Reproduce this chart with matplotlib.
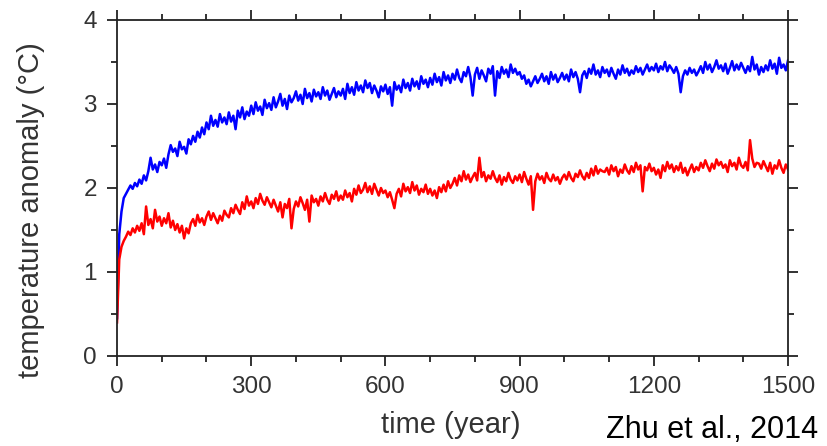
import matplotlib.pyplot as plt
import numpy as np

plt.rcParams['font.family'] = ['Liberation Sans', 'DejaVu Sans']

# model years, one value every 5 years
years = np.arange(0, 1501, 5)

# temperature anomaly (degC)
blue_temp = [
    0.45, 1.45, 1.72, 1.88, 1.93, 1.98, 2.03, 1.99, 2.06, 2.02,
    2.10, 2.05, 2.15, 2.09, 2.20, 2.36, 2.22, 2.28, 2.19, 2.31,
    2.27, 2.35, 2.24, 2.40, 2.51, 2.43, 2.47, 2.38, 2.55, 2.46,
    2.49, 2.41, 2.58, 2.52, 2.62, 2.55, 2.67, 2.60, 2.72, 2.64,
    2.78, 2.70, 2.86, 2.74, 2.81, 2.73, 2.88, 2.78, 2.84, 2.76,
    2.90, 2.79, 2.86, 2.70, 2.92, 2.84, 2.96, 2.82, 2.91, 2.86,
    2.98, 2.88, 3.02, 2.92, 2.97, 2.87, 3.05, 2.95, 3.01, 2.93,
    3.08, 2.96, 3.03, 3.12, 2.98, 3.06, 2.94, 3.10, 3.02, 3.07,
    3.15, 3.04, 3.11, 3.00, 3.18, 3.07, 3.13, 3.03, 3.17, 3.09,
    3.14, 3.06, 3.20, 3.10, 3.16, 3.05, 3.12, 3.19, 3.08, 3.15,
    3.10, 3.18, 3.06, 3.24, 3.13, 3.20, 3.11, 3.26, 3.16, 3.22,
    3.14, 3.28, 3.19, 3.25, 3.13, 3.22, 3.16, 3.08, 3.21, 3.15,
    3.23, 3.12, 3.20, 2.98, 3.26, 3.17, 3.22, 3.14, 3.29, 3.19,
    3.25, 3.16, 3.30, 3.21, 3.27, 3.18, 3.33, 3.24, 3.29, 3.20,
    3.31, 3.23, 3.36, 3.26, 3.32, 3.22, 3.38, 3.28, 3.34, 3.25,
    3.36, 3.29, 3.41, 3.31, 3.26, 3.38, 3.33, 3.44, 3.32, 3.10,
    3.35, 3.43, 3.30, 3.40, 3.34, 3.27, 3.42, 3.36, 3.45, 3.10,
    3.39, 3.31, 3.44, 3.36, 3.41, 3.32, 3.47, 3.37, 3.42, 3.35,
    3.38, 3.30, 3.34, 3.24, 3.29, 3.21, 3.27, 3.33, 3.25, 3.30,
    3.36, 3.27, 3.33, 3.24, 3.38, 3.29, 3.35, 3.26, 3.31, 3.37,
    3.29, 3.35, 3.27, 3.41, 3.32, 3.38, 3.30, 3.14, 3.34, 3.39,
    3.31, 3.42, 3.36, 3.47, 3.35, 3.40, 3.32, 3.44, 3.37, 3.41,
    3.33, 3.43, 3.36, 3.30, 3.41, 3.35, 3.46, 3.37, 3.42, 3.34,
    3.40, 3.36, 3.45, 3.38, 3.43, 3.35, 3.41, 3.47, 3.39, 3.44,
    3.40, 3.48, 3.38, 3.45, 3.41, 3.50, 3.39, 3.46, 3.42, 3.37,
    3.44, 3.36, 3.14, 3.33, 3.40, 3.35, 3.43, 3.37, 3.41, 3.34,
    3.39, 3.45, 3.37, 3.50, 3.41, 3.47, 3.38, 3.44, 3.52, 3.42,
    3.46, 3.39, 3.48, 3.36, 3.43, 3.51, 3.40, 3.47, 3.41, 3.49,
    3.43, 3.37, 3.45, 3.39, 3.56, 3.41, 3.47, 3.35, 3.44, 3.38,
    3.46, 3.40, 3.52, 3.42, 3.48, 3.36, 3.55, 3.43, 3.47, 3.40,
    3.52,
]

red_temp = [
    0.40, 1.15, 1.30, 1.37, 1.42, 1.48, 1.44, 1.52, 1.47, 1.55,
    1.49, 1.58, 1.45, 1.78, 1.56, 1.63, 1.52, 1.74, 1.60, 1.66,
    1.55, 1.64, 1.58, 1.70, 1.53, 1.61, 1.50, 1.57, 1.47, 1.55,
    1.40, 1.52, 1.46, 1.58, 1.63, 1.55, 1.68, 1.59, 1.64, 1.56,
    1.66, 1.72, 1.62, 1.70, 1.64, 1.58, 1.67, 1.61, 1.73, 1.68,
    1.65, 1.76, 1.70, 1.80, 1.74, 1.69, 1.83, 1.75, 1.90, 1.79,
    1.84, 1.76, 1.88, 1.81, 1.93, 1.85, 1.80, 1.89, 1.83, 1.77,
    1.86, 1.79, 1.72, 1.83, 1.65, 1.81, 1.76, 1.87, 1.52, 1.75,
    1.84, 1.78, 1.89, 1.82, 1.74, 1.86, 1.60, 1.91, 1.83, 1.87,
    1.79, 1.90, 1.84, 1.94, 1.86, 1.81, 1.92, 1.87, 1.96, 1.85,
    1.91, 1.86, 1.97, 1.89, 1.94, 1.84, 1.99, 1.92, 2.03, 1.94,
    1.98, 2.06, 1.95, 2.02, 1.93, 2.05, 1.98, 1.91, 2.00, 1.94,
    1.97, 1.89, 1.95, 1.86, 1.76, 1.93, 1.99, 1.90, 2.05, 1.96,
    2.01, 1.94, 2.07, 1.97, 2.03, 1.92, 1.99, 1.95, 2.04, 1.93,
    1.99, 1.91, 1.97, 1.88, 2.01, 1.95, 2.04, 1.96, 2.08, 2.00,
    2.05, 2.12, 2.03, 2.15, 2.08, 2.20, 2.10, 2.16, 2.07, 2.13,
    2.18, 2.09, 2.36, 2.13, 2.19, 2.08, 2.15, 2.11, 2.20, 2.12,
    2.07, 2.15, 2.04, 2.13, 2.08, 2.18, 2.10, 2.06, 2.14, 2.09,
    2.16, 2.07, 2.19, 2.11, 2.04, 2.14, 1.74, 2.08, 2.17, 2.10,
    2.14, 2.06, 2.18, 2.11, 2.08, 2.16, 2.09, 2.13, 2.05, 2.12,
    2.16, 2.10, 2.19, 2.12, 2.08, 2.17, 2.13, 2.21, 2.14, 2.10,
    2.18, 2.12, 2.23, 2.15, 2.26, 2.17, 2.22, 2.20, 2.19, 2.24,
    2.16, 2.27, 2.20, 2.25, 2.14, 2.22, 2.18, 2.28, 2.21, 2.17,
    2.26, 2.19, 2.30, 2.22, 2.27, 1.96, 2.25, 2.21, 2.29, 2.20,
    2.24, 2.16, 2.22, 2.12, 2.27, 2.20, 2.31, 2.23, 2.28, 2.19,
    2.26, 2.21, 2.30, 2.18, 2.24, 2.15, 2.22, 2.28, 2.19, 2.25,
    2.21, 2.30, 2.24, 2.33, 2.26, 2.20, 2.29, 2.23, 2.34, 2.27,
    2.31, 2.24, 2.28, 2.19, 2.33, 2.26, 2.30, 2.22, 2.36, 2.27,
    2.24, 2.31, 2.21, 2.57, 2.35, 2.25, 2.30, 2.29, 2.23, 2.32,
    2.26, 2.20, 2.30, 2.17, 2.27, 2.23, 2.33, 2.24, 2.18, 2.28,
    2.22,
]

x_ticks = [0, 300, 600, 900, 1200, 1500]
y_ticks = [0, 1, 2, 3, 4]

fig = plt.figure(figsize=(8.27, 4.46), dpi=100)
ax = fig.add_axes([0.1415, 0.2018, 0.8114, 0.7534])

ax.plot(years, blue_temp, color='#0000ff', linewidth=1.8)
ax.plot(years, red_temp, color='#ff0000', linewidth=1.8)

ax.set_xlim(0, 1500)
ax.set_ylim(0, 4)
ax.set_xticks(x_ticks)
ax.set_yticks(y_ticks)
ax.set_xticks(np.arange(0, 1501, 100), minor=True)
ax.set_yticks(np.arange(0, 4.01, 0.5), minor=True)

for s in ax.spines.values():
    s.set_linewidth(1.3)
    s.set_color('#222222')

ax.tick_params(which='both', direction='out', top=True, right=True,
               color='#222222', width=1.3, labelsize=17.5,
               labelcolor='#333333', pad=7)
ax.tick_params(which='major', length=7.5)
ax.tick_params(which='minor', length=4)

ax.set_xlabel('time (year)', fontsize=21, color='#333333')
ax.set_ylabel('temperature anomaly (°C)', fontsize=21, color='#333333')
ax.xaxis.set_label_coords(0.497, -0.165)
ax.yaxis.set_label_coords(-0.107, 0.435)

fig.text(606 / 827, 0.018, 'Zhu et al., 2014', fontsize=22, color='black',
         ha='left', va='baseline')

fig.savefig('out.png', dpi=100)
